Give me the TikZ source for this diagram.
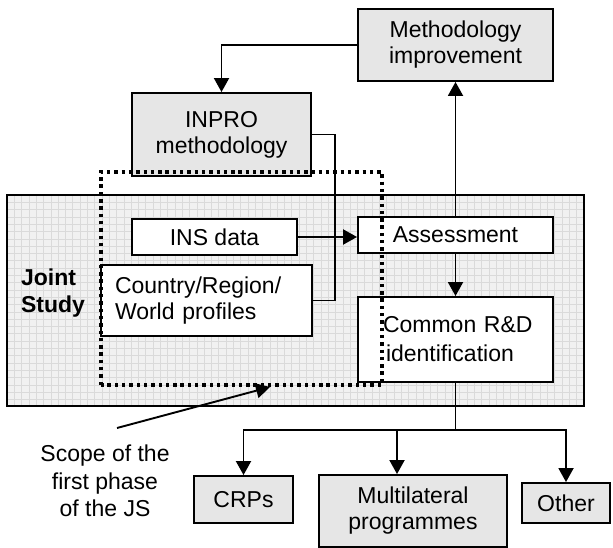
\documentclass[tikz,border=0pt]{standalone}
\usepackage{fontspec}
\setmainfont{Liberation Sans}
\usepackage{tikz}
\usetikzlibrary{arrows.meta,positioning}
\usepackage{xcolor}
\definecolor{boxgrey}{RGB}{230,230,230}
\definecolor{jsgrey}{RGB}{241,241,241}
\definecolor{gridgrey}{RGB}{218,218,218}
\tikzstyle{greybox} = [draw, line width=1.9pt, fill=boxgrey, inner sep=0pt, align=center, font=\fontsize{23}{26}\selectfont]
\tikzstyle{whitebox} = [greybox, fill=white]
\tikzstyle{link} = [line width=1.9pt]
\tikzstyle{arrow} = [link, -{Triangle[length=14pt,width=15pt]}]
\tikzstyle{scopeline} = [line width=3.2pt, dash pattern=on 3.4pt off 3.9pt]

\begin{document}
\begin{tikzpicture}[x=1pt, y=-1pt]
\useasboundingbox (0,0) rectangle (613,548);

% Joint study area
\fill[jsgrey] (7,195) rectangle (584,406);
\foreach \gx in {14.3,21.6,...,584} \draw[gridgrey, line width=0.5pt] (\gx,195) -- (\gx,406);
\foreach \gy in {202.3,209.6,...,406} \draw[gridgrey, line width=0.5pt] (7,\gy) -- (584,\gy);
\draw[line width=1.9pt] (7,195) rectangle (584,406);
\node[font=\bfseries\fontsize{23}{27}\selectfont, align=left] (js) at (53,293) {Joint\\Study};

% Methodology
\node[greybox, minimum width=195, minimum height=72] (meth) at (455.5,45) {Methodology\\improvement};
\node[greybox, minimum width=179, minimum height=83] (inpro) at (221.5,134.5) {INPRO\\methodology};

% Inside the study
\node[whitebox, minimum width=165, minimum height=36] (ins) at (214.5,237) {INS data};
\node[whitebox, minimum width=211, minimum height=71, align=left, text width=183] (country) at (206.5,300.5) {Country/Region/\\World profiles};
\node[whitebox, minimum width=195, minimum height=36] (assess) at (455.5,235) {Assessment};
\node[whitebox, minimum width=195, minimum height=85, align=left, text width=167] (common) at (455.5,339.5) {\hspace*{11pt}Common R\&D\\[3pt]\hspace*{14pt}identification};

% Outcomes
\node[greybox, minimum width=99, minimum height=47] (crps) at (243.5,499.5) {CRPs};
\node[greybox, minimum width=188, minimum height=72] (multi) at (413,511) {Multilateral\\programmes};
\node[greybox, minimum width=88, minimum height=40] (other) at (566,503) {Other};

% Connections
\draw[arrow] (meth.west) -| (inpro.north);
\draw[arrow] (assess.north) -- (meth.south);
\draw[arrow] (ins.east) -- (ins.east -| assess.west);
\coordinate (turn) at (335,134.5);
\draw[link] (inpro.east) -- (turn) |- (country.east);
\draw[arrow] (assess.south) -- (common.north);
\coordinate (split) at (455.5,430);
\draw[link] (common.south) -- (split);
\draw[arrow] (split) -| (crps.north);
\draw[arrow] (split) -| ([xshift=-16pt]multi.north);
\draw[arrow] (split) -| (other.north);

% Scope of the first phase
\draw[scopeline] (101,385) -- (101,172) -- (382,172) -- (382,385) -- cycle;
\node[align=center, font=\fontsize{23}{27.5}\selectfont] (scope) at (105,481) {Scope of the\\first phase\\of the JS};
\coordinate (scopetail) at (117,428);
\coordinate (scopetip) at (270,387);
\draw[arrow] (scopetail) -- (scopetip);
\end{tikzpicture}
\end{document}
